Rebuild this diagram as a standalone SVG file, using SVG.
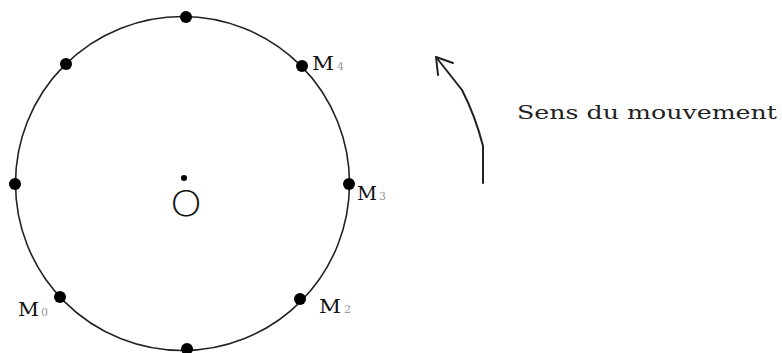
<svg xmlns="http://www.w3.org/2000/svg" width="782" height="353" viewBox="0 0 782 353">
<style>
.pt{fill:#000}
.m{font-family:"DejaVu Serif","Liberation Serif",serif;font-size:19px;fill:#111}
.sub{font-family:"DejaVu Serif","Liberation Serif",serif;font-size:11px;fill:#999}
.lbl{font-family:"DejaVu Serif","Liberation Serif",serif;font-size:19px;fill:#222}
</style>
<rect width="782" height="353" fill="#fff"/>
<g id="circle"><circle cx="182.5" cy="183.5" r="167" fill="none" stroke="#222" stroke-width="1.6"/></g>
<g id="center">
<circle class="pt" cx="184" cy="178" r="3"/>
<text x="0" y="216" text-anchor="middle" transform="translate(186,0) scale(1.2,1)" style="font-family:Inter,'Liberation Sans',sans-serif;font-size:35px;font-weight:200;fill:#111">O</text>
</g>
<g id="p-top"><circle class="pt" cx="186" cy="17" r="6"/></g>
<g id="p-topleft"><circle class="pt" cx="66" cy="64" r="6"/></g>
<g id="p-left"><circle class="pt" cx="15" cy="184" r="6"/></g>
<g id="p-bottom"><circle class="pt" cx="187" cy="349" r="6"/></g>
<g id="M4"><circle class="pt" cx="302" cy="66" r="6"/><text class="m" x="312" y="70" textLength="22" lengthAdjust="spacingAndGlyphs">M</text><text class="sub" x="337" y="70">4</text></g>
<g id="M3"><circle class="pt" cx="349" cy="184" r="6"/><text class="m" x="357" y="200" textLength="20" lengthAdjust="spacingAndGlyphs">M</text><text class="sub" x="379" y="200">3</text></g>
<g id="M2"><circle class="pt" cx="300" cy="299" r="6"/><text class="m" x="319" y="313" textLength="22" lengthAdjust="spacingAndGlyphs">M</text><text class="sub" x="344" y="313">2</text></g>
<g id="M0"><circle class="pt" cx="60" cy="297" r="6"/><text class="m" x="18" y="316" textLength="21" lengthAdjust="spacingAndGlyphs">M</text><text class="sub" x="41" y="316">0</text></g>
<g id="connectors" fill="none" stroke="#222" stroke-width="2" stroke-linecap="round" stroke-linejoin="round">
<path d="M483,183 L483,146 Q475,115 462,90 L436,57"/>
<polyline points="453,63 436,57 438,75"/>
</g>
<g id="label"><text class="lbl" x="517" y="119" textLength="260" lengthAdjust="spacingAndGlyphs">Sens du mouvement</text></g>
</svg>
